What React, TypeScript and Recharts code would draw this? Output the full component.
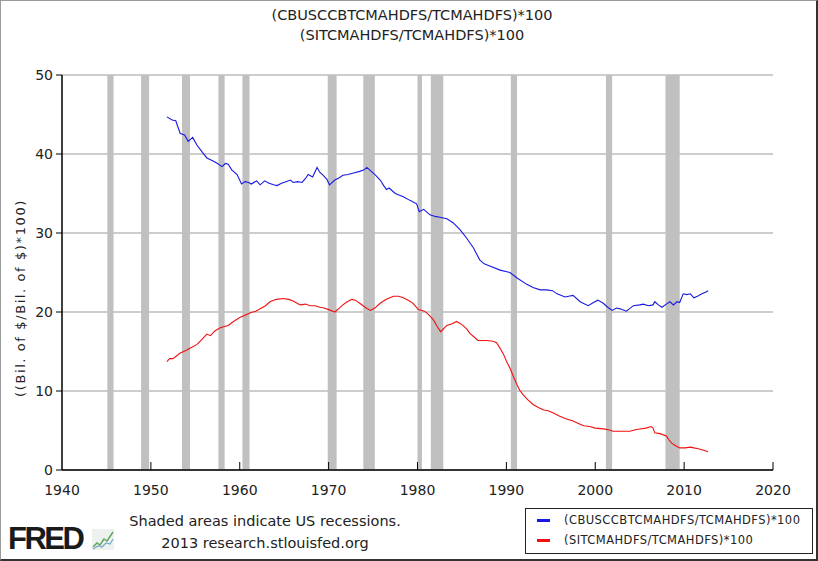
import { LineChart, Line, XAxis, YAxis, CartesianGrid, ReferenceArea, Legend } from 'recharts'

// (CBUSCCBTCMAHDFS/TCMAHDFS)*100
const bankYears = [1951.8, 1952.4, 1952.8, 1953.3, 1953.8, 1954.2, 1954.7, 1955.2, 1955.8, 1956.3, 1957.0, 1957.5, 1958.0, 1958.4, 1958.7, 1959.1, 1959.7, 1960.2, 1960.6, 1961.0, 1961.3, 1961.9, 1962.3, 1962.8, 1963.3, 1963.8, 1964.2, 1964.7, 1965.2, 1965.7, 1966.0, 1966.5, 1967.0, 1967.4, 1967.7, 1968.2, 1968.7, 1969.0, 1969.4, 1969.8, 1970.1, 1970.7, 1971.2, 1971.6, 1972.2, 1972.8, 1973.5, 1974.0, 1974.3, 1974.8, 1975.3, 1975.8, 1976.2, 1976.5, 1976.8, 1977.5, 1978.4, 1979.2, 1979.9, 1980.2, 1980.7, 1981.4, 1982.0, 1982.5, 1983.3, 1984.0, 1984.8, 1985.5, 1986.3, 1987.0, 1987.5, 1988.2, 1989.3, 1990.4, 1991.2, 1992.3, 1993.0, 1993.8, 1994.5, 1995.2, 1995.7, 1996.6, 1997.0, 1997.5, 1998.3, 1999.2, 1999.8, 2000.3, 2000.9, 2001.4, 2001.9, 2002.4, 2002.8, 2003.5, 2004.3, 2005.0, 2005.4, 2006.0, 2006.5, 2006.7, 2007.1, 2007.5, 2008.0, 2008.4, 2008.8, 2009.2, 2009.5, 2009.9, 2010.3, 2010.7, 2011.1, 2011.5, 2012.0, 2012.4, 2012.7]
const bankValues = [44.7, 44.3, 44.2, 42.6, 42.4, 41.6, 42.1, 41.1, 40.2, 39.5, 39.1, 38.8, 38.4, 38.8, 38.7, 38.0, 37.4, 36.2, 36.5, 36.4, 36.2, 36.6, 36.1, 36.6, 36.3, 36.1, 36.0, 36.3, 36.5, 36.7, 36.4, 36.5, 36.4, 36.9, 37.4, 37.1, 38.3, 37.7, 37.3, 36.8, 36.1, 36.7, 37.0, 37.3, 37.4, 37.6, 37.8, 38.0, 38.3, 37.8, 37.3, 36.7, 36.0, 35.5, 35.7, 35.0, 34.6, 34.1, 33.7, 32.7, 33.0, 32.3, 32.1, 32.0, 31.8, 31.3, 30.4, 29.4, 28.1, 26.6, 26.1, 25.8, 25.3, 25.0, 24.3, 23.5, 23.1, 22.8, 22.8, 22.7, 22.3, 21.9, 22.0, 22.1, 21.3, 20.8, 21.2, 21.5, 21.1, 20.6, 20.2, 20.5, 20.4, 20.1, 20.8, 20.9, 21.0, 20.8, 20.9, 21.3, 20.9, 20.6, 21.0, 21.3, 20.9, 21.3, 21.2, 22.3, 22.2, 22.3, 21.8, 22.0, 22.3, 22.5, 22.7]

// (SITCMAHDFS/TCMAHDFS)*100
const savingsYears = [1951.8, 1952.1, 1952.5, 1953.3, 1953.9, 1954.4, 1955.2, 1955.8, 1956.3, 1956.7, 1957.2, 1957.8, 1958.7, 1959.3, 1960.0, 1960.6, 1961.2, 1961.8, 1962.3, 1962.9, 1963.4, 1964.1, 1964.9, 1965.5, 1966.0, 1966.8, 1967.4, 1967.9, 1968.5, 1969.0, 1969.5, 1970.0, 1970.7, 1971.2, 1971.6, 1972.1, 1972.6, 1973.0, 1973.5, 1974.1, 1974.7, 1975.2, 1975.8, 1976.5, 1977.3, 1977.9, 1978.4, 1979.1, 1979.5, 1980.1, 1980.8, 1981.3, 1981.8, 1982.2, 1982.6, 1983.3, 1983.9, 1984.4, 1985.0, 1985.5, 1985.9, 1986.4, 1986.8, 1987.8, 1988.5, 1988.9, 1989.3, 1989.7, 1990.0, 1990.4, 1990.8, 1991.2, 1991.5, 1991.9, 1992.4, 1993.0, 1993.6, 1994.2, 1994.7, 1995.3, 1996.0, 1996.7, 1997.5, 1998.1, 1998.7, 1999.4, 2000.0, 2000.9, 2001.5, 2002.0, 2003.0, 2003.9, 2004.5, 2005.0, 2005.7, 2006.3, 2006.5, 2006.7, 2007.3, 2008.0, 2008.3, 2008.6, 2009.0, 2009.5, 2010.1, 2010.7, 2011.1, 2011.6, 2012.2, 2012.7]
const savingsValues = [13.7, 14.1, 14.1, 14.8, 15.1, 15.4, 15.9, 16.6, 17.2, 17.0, 17.6, 18.0, 18.3, 18.8, 19.3, 19.6, 19.9, 20.1, 20.4, 20.8, 21.3, 21.6, 21.7, 21.6, 21.4, 20.9, 21.0, 20.8, 20.8, 20.6, 20.5, 20.3, 20.0, 20.5, 20.9, 21.3, 21.6, 21.5, 21.1, 20.6, 20.2, 20.5, 21.1, 21.6, 22.0, 22.0, 21.8, 21.4, 21.1, 20.3, 20.1, 19.6, 19.0, 18.2, 17.5, 18.3, 18.5, 18.8, 18.4, 17.9, 17.3, 16.8, 16.4, 16.4, 16.3, 16.1, 15.4, 14.6, 13.8, 12.9, 11.8, 10.8, 10.1, 9.5, 8.9, 8.3, 7.9, 7.6, 7.5, 7.2, 6.8, 6.5, 6.2, 5.9, 5.6, 5.5, 5.3, 5.2, 5.1, 4.9, 4.9, 4.9, 5.1, 5.2, 5.3, 5.5, 5.3, 4.7, 4.6, 4.3, 3.8, 3.4, 3.1, 2.8, 2.8, 2.9, 2.8, 2.7, 2.5, 2.3]

// US recessions (NBER), decimal years
const recessionStarts = [1945.1, 1948.9, 1953.5, 1957.6, 1960.3, 1969.9, 1973.9, 1980.0, 1981.5, 1990.5, 2001.2, 2007.9]
const recessionEnds = [1945.8, 1949.8, 1954.4, 1958.3, 1961.1, 1970.9, 1975.2, 1980.5, 1982.9, 1991.2, 2001.9, 2009.5]

const xTicks = [1940, 1950, 1960, 1970, 1980, 1990, 2000, 2010, 2020]
const yTicks = [0, 10, 20, 30, 40, 50]

const SERIES = [
  { key: 'bank', name: '(CBUSCCBTCMAHDFS/TCMAHDFS)*100', color: '#1818e0', years: bankYears, values: bankValues },
  { key: 'savings', name: '(SITCMAHDFS/TCMAHDFS)*100', color: '#f01010', years: savingsYears, values: savingsValues },
]

const FONT = '"DejaVu Sans", Verdana, sans-serif'
const TEXT = '#222'

function XTick(props: any) {
  const { x, y, payload } = props
  return (
    <g>
      {payload.value > 1940 && <line x1={x} y1={y} x2={x} y2={y - 8} stroke="#000" />}
      <text x={x} y={y + 25} textAnchor="middle" fontSize={14} fill={TEXT} fontFamily={FONT}>
        {payload.value}
      </text>
    </g>
  )
}

function YLabel() {
  return (
    <text x={25} y={298} transform="rotate(-90 25 298)" textAnchor="middle" fontSize={13} letterSpacing={1.6} fill={TEXT} fontFamily={FONT}>
      ((Bil. of $/Bil. of $)*100)
    </text>
  )
}

function LegendBox() {
  return (
    <div style={{ width: 288, height: 46, border: '1px solid #222', boxSizing: 'border-box', background: '#fff', fontFamily: FONT, fontSize: 11.5, color: TEXT, padding: '1px 0 0 11px' }}>
      {SERIES.map((s) => (
        <div key={s.key} style={{ display: 'flex', alignItems: 'center', height: 20 }}>
          <span style={{ display: 'inline-block', width: 13, height: 3, background: s.color, marginRight: 14 }} />
          <span style={{ letterSpacing: 0.45 }}>{s.name}</span>
        </div>
      ))}
    </div>
  )
}

export default function App() {
  return (
    <div
      style={{
        position: 'absolute', left: 0, top: 0, width: 818, height: 561, boxSizing: 'border-box',
        borderTop: '1px solid #9a9a9a', borderLeft: '1px solid #9a9a9a', borderRight: '2px solid #333', borderBottom: '2px solid #333',
        background: '#fff', fontFamily: FONT, overflow: 'hidden',
      }}
    >
      <div style={{ position: 'absolute', left: -1, top: -1 }}>
        <LineChart width={818} height={561} margin={{ top: 75, right: 45, bottom: 15, left: 0 }}>
          {recessionStarts.map((s, i) => (
            <ReferenceArea key={s} x1={s} x2={recessionEnds[i]} y1={0} y2={50} fill="#c0c0c0" fillOpacity={1} stroke="none" ifOverflow="hidden" />
          ))}
          <CartesianGrid vertical={false} stroke="#bdbdbd" strokeWidth={1.5} />
          <XAxis
            type="number"
            dataKey="year"
            domain={[1940, 2020]}
            ticks={xTicks}
            allowDuplicatedCategory={false}
            height={30}
            tickSize={0}
            tickMargin={0}
            tick={<XTick />}
            axisLine={{ stroke: '#000', strokeWidth: 1.5 }}
          />
          <YAxis
            domain={[0, 50]}
            ticks={yTicks}
            width={62}
            tickSize={6}
            tickMargin={3}
            tickLine={{ stroke: '#000' }}
            axisLine={{ stroke: '#000', strokeWidth: 1.5 }}
            tick={{ fontSize: 14, fill: TEXT, fontFamily: FONT }}
            label={<YLabel />}
          />
          {SERIES.map((s) => (
            <Line
              key={s.key}
              data={s.years.map((yr, i) => ({ year: yr, value: s.values[i] }))}
              dataKey="value"
              name={s.name}
              stroke={s.color}
              strokeWidth={1.1}
              dot={false}
              type="linear"
              isAnimationActive={false}
            />
          ))}
          <Legend content={<LegendBox />} wrapperStyle={{ left: 525, top: 508, width: 288 }} />
        </LineChart>
      </div>
      <div style={{ position: 'absolute', left: 0, width: 818, top: 4, textAlign: 'center', fontSize: 14.5, lineHeight: '20px', color: TEXT }}>
        <div style={{ paddingLeft: 4 }}>(CBUSCCBTCMAHDFS/TCMAHDFS)*100</div>
        <div style={{ paddingLeft: 4 }}>(SITCMAHDFS/TCMAHDFS)*100</div>
      </div>
      <div style={{ position: 'absolute', left: 7, top: 522, fontFamily: '"Liberation Sans", Arial, sans-serif', fontWeight: 900, fontSize: 31, letterSpacing: -2.5, color: '#1a1a1a', lineHeight: '31px' }}>
        FRED
      </div>
      <svg style={{ position: 'absolute', left: 91, top: 528 }} width={22} height={21}>
        <rect x={0} y={0} width={22} height={21} fill="#eef2ee" />
        <polyline points="1,18 5,14 8,16 12,10 15,12 21,3" fill="none" stroke="#5fa55f" strokeWidth={1.5} />
        <polyline points="1,20 6,17 10,18 14,14 18,15 21,10" fill="none" stroke="#7aa7c7" strokeWidth={1.2} />
      </svg>
      <div style={{ position: 'absolute', left: 114, width: 300, top: 509, textAlign: 'center', fontSize: 14.5, lineHeight: '22px', color: TEXT }}>
        <div>Shaded areas indicate US recessions.</div>
        <div>2013 research.stlouisfed.org</div>
      </div>
    </div>
  )
}
